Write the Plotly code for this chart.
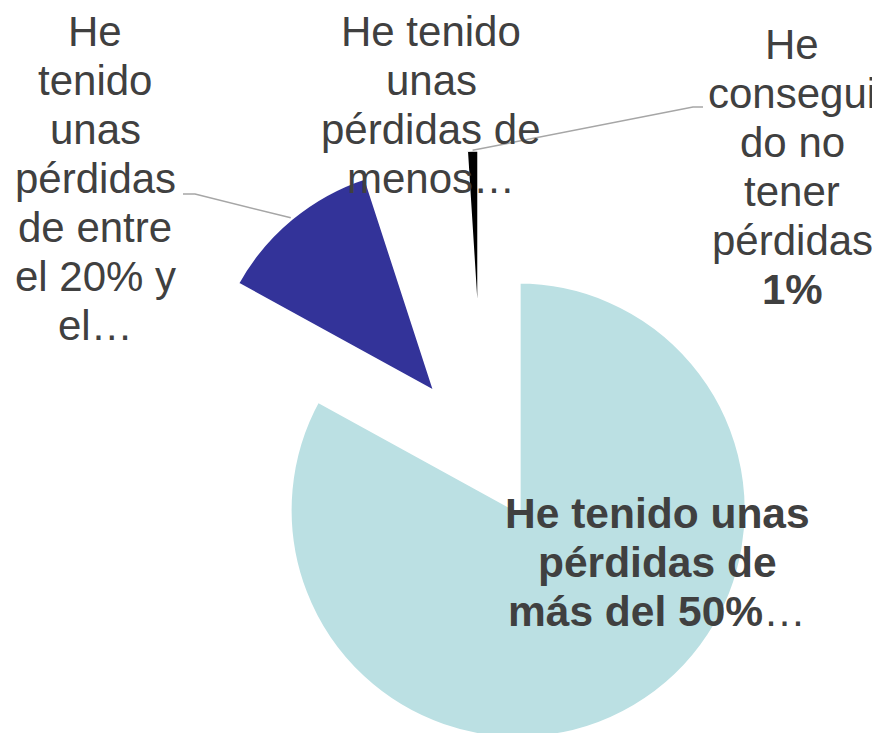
import math
import plotly.graph_objects as go

# ---------------- data ----------------
labels = [
    "He tenido unas pérdidas de más del 50%",
    "He tenido unas pérdidas de entre el 20% y el 50%",
    "He tenido unas pérdidas de menos del 20%",
    "He conseguido no tener pérdidas",
]
values = [83, 12, 4, 1]
colors = ["#BBE0E3", "#333399", "#FFFFFF", "#000000"]

# label texts (line by line, as shown in the chart)
lines_mas = ["<b>He tenido unas</b>", "<b>pérdidas de</b>", "<b>más del 50%</b>…"]
lines_entre = ["He", "tenido", "unas", "pérdidas", "de entre", "el 20% y", "el…"]
lines_menos = ["He tenido", "unas", "pérdidas de", "menos…"]
lines_no = ["He", "consegui", "do no", "tener", "pérdidas", "<b>1%</b>"]

# ---------------- layout parameters (page pixels) ----------------
W, H = 880, 733
OFF = 8            # default page body margin
R = 229            # pie radius (px)
PULL = 71          # explosion distance (px)
CX, CY = 482, 449  # centre of the unexploded pie (px)
TEXT = "#404040"
LEADER = "#A6A6A6"
FONT = "Liberation Sans, Arial, sans-serif"

total = sum(values)
starts, ends = [], []
acc = 0
for v in values:
    starts.append(360 * acc / total)
    acc += v
    ends.append(360 * acc / total)
bis = [(s + e) / 2 for s, e in zip(starts, ends)]


def apex(i):
    b = math.radians(bis[i])
    return CX + PULL * math.sin(b), CY - PULL * math.cos(b)


def px(x):
    return (x - OFF) / W


def py(y):
    return 1 - (y - OFF) / H


fig = go.Figure()
for i in range(len(values)):
    ax, ay = apex(i)
    dx = [max(0, px(ax - R)), min(1, px(ax + R))]
    dy = [max(0, py(ay + R)), min(1, py(ay - R))]
    fig.add_trace(go.Pie(
        values=values,
        labels=labels,
        sort=False,
        direction="clockwise",
        rotation=0,
        textinfo="none",
        hoverinfo="label+percent",
        showlegend=False,
        marker=dict(
            colors=[colors[j] if j == i else "rgba(0,0,0,0)" for j in range(len(values))],
            line=dict(color="white",
                      width=[5 if j == i else 0 for j in range(len(values))]),
        ),
        domain=dict(x=dx, y=dy),
    ))

# ---------------- labels ----------------
STEP = 49


def add_block(lines, cx, base0, size):
    for k, t in enumerate(lines):
        base = base0 + k * STEP
        fig.add_annotation(
            x=px(cx), y=py(base - 0.3465 * size), xref="paper", yref="paper",
            text=t, showarrow=False, xanchor="center", yanchor="middle",
            font=dict(family=FONT, size=size, color=TEXT),
        )


add_block(lines_entre, 95, 46, 42)
add_block(lines_menos, 431, 46, 42)
add_block(lines_no, 792, 59, 42)
add_block(lines_mas, 657, 528, 42.5)


# ---------------- leader lines ----------------
def arc_point(i, f=1.0):
    ax, ay = apex(i)
    b = math.radians(bis[i])
    return ax + f * R * math.sin(b), ay - f * R * math.cos(b)


def leader(points):
    d = "M " + " L ".join(f"{px(x):.5f},{py(y):.5f}" for x, y in points)
    fig.add_shape(type="path", path=d, xref="paper", yref="paper",
                  line=dict(color=LEADER, width=1.5))


p1 = arc_point(1, 1.0)
leader([(183, 194), (195, 194), p1])
p3 = arc_point(3, 0.995)
leader([p3, (693, 107), (703, 107)])

fig.update_layout(
    width=W, height=H, autosize=False,
    margin=dict(l=0, r=0, t=0, b=0),
    paper_bgcolor="white", plot_bgcolor="white",
)

fig.write_html("out.html")
